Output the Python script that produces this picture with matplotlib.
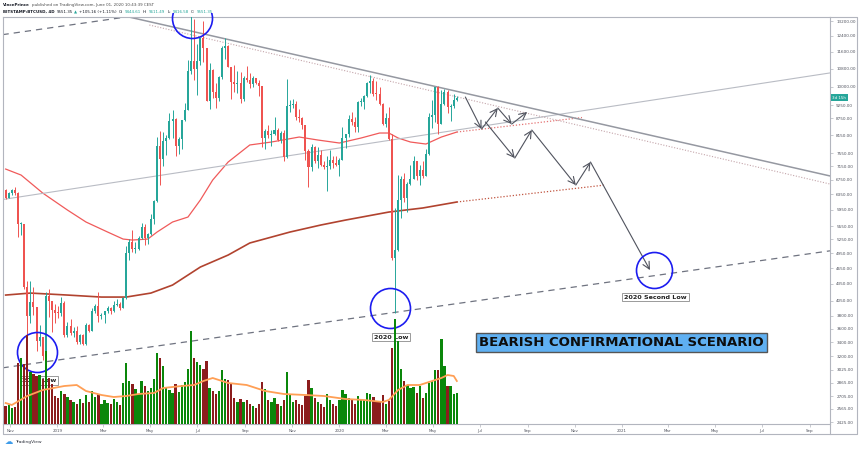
import matplotlib
matplotlib.use("Agg")
import matplotlib.pyplot as plt
import matplotlib.dates as mdates
import matplotlib.ticker as mticker
import matplotlib.transforms as mtransforms
import numpy as np
import pandas as pd

W, H = 860, 449

# ---- BTCUSD 4D candles (Bitstamp), first candle starts 2018-10-26 ----
first_open = 6470
closes = [6250, 6390, 6460, 6370, 5600, 5600, 4300, 3800, 4020, 3940,
          3410, 3470, 3210, 4130, 4050, 3900, 3850, 3840, 4010, 3500,
          3640, 3540, 3570, 3400, 3510, 3380, 3650, 3570, 3880, 3960,
          3800, 3820, 3870, 3920, 3870, 3980, 3990, 3930, 4100, 4960,
          5200, 5030, 5040, 5270, 5530, 5270, 5370, 5730, 6160, 7800,
          7360, 7950, 8060, 8660, 8740, 7800, 8010, 8690, 9080, 10700,
          11150, 10800, 11150, 12300, 11800, 9430, 10750, 9780, 9530, 10400,
          11800, 11860, 10880, 10220, 10130, 10140, 9490, 10380, 10310, 10100,
          10360, 10160, 10030, 8060, 8300, 8160, 8200, 8320, 8000, 8230,
          7430, 9220, 9250, 9310, 8810, 8770, 8500, 7620, 7130, 7750,
          7300, 7510, 7200, 7120, 7160, 7330, 7260, 7170, 7350, 8050,
          8180, 8720, 8630, 8430, 9370, 9370, 9610, 10150, 10230, 9700,
          9680, 9310, 8540, 8750, 8030, 4850, 5010, 6190, 6760, 6250,
          6640, 6780, 7300, 6860, 7040, 6860, 7540, 8790, 8890, 9980,
          8560, 9310, 9780, 9180, 9200, 9444.61, 9551.35]
highs = [6500, 6420, 6480, 6550, 6420, 5650, 5600, 4400, 4400, 4300,
         3950, 3650, 3480, 4200, 4250, 4050, 3990, 3960, 4120, 4040,
         3700, 3750, 3620, 3640, 3520, 3520, 3680, 3670, 3920, 4000,
         4200, 3850, 3880, 3960, 3940, 4050, 4080, 4020, 4120, 5100,
         5250, 5470, 5200, 5330, 5620, 5600, 5400, 5850, 6200, 8100,
         8300, 8250, 8150, 8950, 9080, 8750, 8100, 8700, 9350, 11200,
         13880, 13300, 12000, 12350, 13200, 11800, 11050, 10800, 10150, 10450,
         11900, 12300, 11950, 10880, 10950, 10700, 10620, 10450, 10900, 10600,
         10450, 10380, 10300, 10050, 8350, 8500, 8330, 8800, 8400, 8280,
         8330, 10350, 9450, 9500, 9400, 9100, 8800, 8500, 7700, 7850,
         7800, 7750, 7650, 7300, 7450, 7650, 7450, 7450, 7400, 8450,
         8200, 8880, 9000, 8800, 9400, 9550, 9650, 10200, 10500, 10380,
         10250, 9980, 9350, 8950, 9180, 8200, 6000, 6900, 6850, 6950,
         6700, 7200, 7450, 7320, 7200, 7300, 7700, 8950, 9450, 10000,
         10050, 9850, 9900, 9850, 9300, 9700, 9611.49]
lows = [6220, 6250, 6330, 6330, 5300, 5350, 4250, 3480, 3680, 3820,
        3280, 3340, 3150, 3200, 3780, 3550, 3680, 3760, 3800, 3480,
        3480, 3500, 3480, 3380, 3380, 3360, 3360, 3550, 3560, 3850,
        3700, 3750, 3680, 3850, 3830, 3860, 3960, 3900, 3920, 4080,
        4800, 4980, 4950, 5010, 5250, 5120, 5150, 5350, 5600, 6150,
        6600, 7150, 7500, 8020, 8050, 7450, 7520, 7700, 8650, 9050,
        10550, 10300, 9650, 10950, 11100, 9400, 9100, 9550, 9150, 9400,
        10350, 11250, 10850, 9500, 9800, 9750, 9350, 9400, 10200, 9950,
        10000, 10100, 9600, 7750, 7700, 8050, 7800, 8150, 7950, 7880,
        7300, 7400, 9000, 9150, 8700, 8600, 8350, 7350, 6550, 7000,
        7250, 7100, 7150, 7050, 6450, 7050, 7100, 7150, 6870, 7350,
        7730, 8080, 8500, 8250, 8250, 9200, 9100, 9580, 9750, 9600,
        9450, 9250, 8500, 8450, 8000, 4800, 3850, 5000, 5750, 6150,
        5880, 6600, 6780, 6750, 6600, 6800, 6850, 7500, 8400, 8600,
        8200, 8550, 9250, 8950, 8650, 9150, 9416.58]
volumes = [18, 19, 16, 17, 61, 66, 60, 89, 52, 50,
           48, 49, 45, 73, 46, 40, 28, 26, 33, 30,
           27, 24, 22, 20, 25, 21, 29, 22, 33, 27,
           30, 20, 24, 21, 20, 25, 22, 19, 41, 61,
           43, 40, 35, 30, 43, 38, 33, 36, 45, 71,
           66, 58, 36, 34, 31, 40, 32, 39, 42, 55,
           93, 66, 62, 59, 55, 63, 36, 33, 30, 33,
           54, 45, 44, 40, 26, 22, 25, 22, 24, 20,
           18, 16, 20, 42, 35, 24, 22, 26, 20, 18,
           24, 52, 30, 22, 24, 20, 19, 28, 44, 36,
           26, 22, 20, 17, 30, 24, 20, 18, 24, 34,
           30, 26, 24, 20, 28, 24, 24, 31, 30, 27,
           23, 22, 29, 20, 23, 76, 105, 83, 55, 43,
           39, 36, 37, 31, 38, 26, 31, 41, 43, 54,
           54, 85, 58, 38, 38, 30, 31]

# moving averages (candle index -> value)
ma_fast_idx = [0, 5, 12, 20, 26, 33, 38, 41, 46, 49, 54, 59, 63, 67, 72, 79,
               86, 95, 101, 108, 115, 121, 124, 127, 131, 136, 141, 146]
ma_fast = [7063, 6886, 6382, 5940, 5647, 5413, 5255, 5233, 5255, 5413, 5647,
           5767, 6197, 6743, 7276, 7819, 7917, 8086, 7985, 7884, 8052, 8224,
           8224, 8052, 7917, 7850, 8086, 8258]
ma_slow_idx = [0, 8, 20, 31, 39, 47, 54, 63, 72, 79, 92, 102, 110, 124, 135, 146]
ma_slow = [4148, 4183, 4148, 4113, 4113, 4183, 4327, 4669, 4912, 5168, 5413,
           5576, 5694, 5890, 5992, 6145]
vol_ma_idx = [0, 2, 7, 12, 19, 23, 26, 31, 35, 39, 43, 48, 51, 57, 61, 64, 67,
              72, 78, 84, 90, 97, 103, 110, 116, 122, 124, 127, 130, 134, 138,
              141, 143, 145, 146]
vol_ma = [21, 19, 28, 34, 38, 39, 33, 29, 27, 28, 30, 31, 36, 38, 39, 43, 46,
          41, 39, 33, 30, 29, 28, 25, 24, 22, 24, 34, 39, 39, 43, 46, 49, 48, 43]
ma_fast_proj = (["2020-06-01", "2020-11-10"], [8258, 8780])
ma_slow_proj = (["2020-06-01", "2020-12-09"], [6145, 6600])

# drawn trend lines (date, price anchors)
channel_top = (["2018-10-22", "2019-04-15"], [12460, 13520])
channel_bottom = (["2018-10-22", "2021-09-27"], [3050, 5000])
rising_line = (["2018-10-22", "2021-09-27"], [6210, 10600])
falling_line = (["2019-03-23", "2021-09-27"], [13540, 6860])
falling_dotted = (["2019-04-30", "2021-09-27"], [12978, 6630])

# projected path arrows: (start date, start price, end date, end price)
arrows = [
    ("2020-06-12", 9575, "2020-07-03", 8363),
    ("2020-07-03", 8363, "2020-07-24", 9140),
    ("2020-07-24", 9140, "2020-08-11", 8541),
    ("2020-08-11", 8541, "2020-08-31", 8988),
    ("2020-07-08", 8616, "2020-08-15", 7398),
    ("2020-08-15", 7398, "2020-09-06", 8329),
    ("2020-09-06", 8329, "2020-11-02", 6601),
    ("2020-11-02", 6601, "2020-11-21", 7276),
    ("2020-11-21", 7276, "2021-02-06", 4609),
]

circle_dates = ["2018-12-06", "2020-03-06", "2021-02-11"]
circle_prices = [3260, 3927, 4609]
circle_radius = [20, 20, 18]
top_circle = ("2019-06-24", 13368)

labels = ["2018 Low", "2020 Low", "2020 Second Low"]
label_dates = ["2018-12-08", "2020-03-08", "2021-02-13"]
label_prices = [2891, 3474, 4113]

yticks = [13200, 12400, 11600, 10800, 10000, 9250, 8750, 8150, 7550, 7150,
          6750, 6350, 5950, 5550, 5250, 4950, 4650, 4350, 4050, 3800, 3600,
          3400, 3200, 3025, 2865, 2705, 2565, 2425]
xtick_dates = ["2018-11-01", "2019-01-01", "2019-03-01", "2019-05-01",
               "2019-07-01", "2019-09-01", "2019-11-01", "2020-01-01",
               "2020-03-01", "2020-05-01", "2020-07-01", "2020-09-01",
               "2020-11-01", "2021-01-01", "2021-03-01", "2021-05-01",
               "2021-07-01", "2021-09-01"]
xtick_labels = ["Nov", "2019", "Mar", "May", "Jul", "Sep", "Nov", "2020",
                "Mar", "May", "Jul", "Sep", "Nov", "2021", "Mar", "May",
                "Jul", "Sep"]


def dn(s):
    return mdates.date2num(pd.Timestamp(s))


candle_dates = pd.date_range("2018-10-26", periods=len(closes), freq="4D")
xd = mdates.date2num(candle_dates)
opens = np.array([first_open] + closes[:-1], dtype=float)
c = np.array(closes, dtype=float)
up = c >= opens

fig = plt.figure(figsize=(W / 100, H / 100), dpi=100)
rect = [3 / W, 1 - 424 / H, 827 / W, 407 / H]
ax = fig.add_axes(rect)
vax = fig.add_axes(rect)
vax.set_facecolor("none")
vax.axis("off")

x0, x1 = dn("2018-10-22 14:00"), dn("2021-09-27")
ax.set_xlim(x0, x1)
vax.set_xlim(x0, x1)
ax.set_yscale("log")
ax.set_ylim(2406, 13425)
vax.set_ylim(0, 407)

# candles
ccol = np.where(up, "#26a69a", "#ef5350")
lo = np.minimum(opens, c)
hi = np.maximum(np.maximum(opens, c), lo * 1.004)
ax.vlines(xd, lows, highs, colors=ccol, lw=0.7, zorder=3)
ax.bar(xd, hi - lo, bottom=lo, width=2.6, color=ccol, linewidth=0, zorder=3)

# volume
vcol = np.where(up, "#0a870a", "#8c1d1d")
vax.bar(xd, volumes, width=3.0, color=vcol, linewidth=0)
vax.plot(xd[vol_ma_idx], vol_ma, color="#ff9f55", lw=1.3)

# moving averages
ax.plot(xd[ma_fast_idx], ma_fast, color="#f05a5a", lw=0.9, zorder=2)
ax.plot(xd[ma_slow_idx], ma_slow, color="#b1432f", lw=1.2, zorder=2)
ax.plot([dn(d) for d in ma_fast_proj[0]], ma_fast_proj[1], color="#e57373",
        lw=0.9, ls=(0, (1, 1.5)))
ax.plot([dn(d) for d in ma_slow_proj[0]], ma_slow_proj[1], color="#c0543f",
        lw=0.9, ls=(0, (1, 1.5)))

# trend lines
ax.plot([dn(d) for d in channel_top[0]], channel_top[1], color="#6f7380",
        lw=0.9, ls=(0, (5, 4)))
ax.plot([dn(d) for d in channel_bottom[0]], channel_bottom[1], color="#6f7380",
        lw=0.9, ls=(0, (5, 4)))
ax.plot([dn(d) for d in rising_line[0]], rising_line[1], color="#b9bcc4", lw=0.8)
ax.plot([dn(d) for d in falling_line[0]], falling_line[1], color="#9598a1", lw=1.1)
ax.plot([dn(d) for d in falling_dotted[0]], falling_dotted[1], color="#c4a5aa",
        lw=0.8, ls=(0, (1, 1.5)))

for sd, sp, ed, ep in arrows:
    ax.annotate("", xy=(dn(ed), ep), xytext=(dn(sd), sp),
                arrowprops=dict(arrowstyle="->,head_length=0.5,head_width=0.25",
                                color="#50535e", lw=0.8, shrinkA=0, shrinkB=0))

# circles
for d, p, r in zip(circle_dates, circle_prices, circle_radius):
    ax.plot(dn(d), p, "o", ms=2 * r * 0.72, mfc="none", mec="#1c1cf0", mew=1.2,
            clip_on=False, zorder=6)
tc, = ax.plot(dn(top_circle[0]), top_circle[1], "o", ms=40 * 0.72, mfc="none",
              mec="#1c1cf0", mew=1.2, zorder=6)
tc.set_clip_box(mtransforms.Bbox.from_extents(0, 0, W, H - 13))

for s, d, p in zip(labels, label_dates, label_prices):
    ax.text(dn(d), p, s, fontsize=4.6, fontweight="bold", color="#222",
            ha="center", va="center", zorder=7,
            bbox=dict(boxstyle="square,pad=0.3", fc="white", ec="#8a8a8a", lw=0.6))

ax.text(dn("2020-12-31"), 3394, "BEARISH CONFIRMATIONAL SCENARIO", fontsize=9.5,
        fontweight="bold", color="#0d0d0d", ha="center", va="center", zorder=7,
        bbox=dict(boxstyle="square,pad=0.22", fc="#5fb0f2", ec="#555", lw=1.0))

# axes styling
ax.yaxis.tick_right()
ax.set_yticks(yticks)
ax.set_yticklabels([f"{v:.2f}" for v in yticks])
ax.yaxis.set_minor_locator(mticker.NullLocator())
ax.set_xticks([dn(d) for d in xtick_dates])
ax.set_xticklabels(xtick_labels)
ax.tick_params(axis="y", length=2, width=0.5, color="#b2b5be", labelsize=3.0,
               labelcolor="#50535e", pad=2.5)
ax.tick_params(axis="x", length=2, width=0.5, color="#b2b5be", labelsize=2.9,
               labelcolor="#50535e", pad=1.5)
for sp in ax.spines.values():
    sp.set_color("#b2b5be")
    sp.set_linewidth(0.8)

ax.text(1.003, 9551.35, "3d 15h", transform=ax.get_yaxis_transform(),
        fontsize=2.9, color="white", ha="left", va="center", zorder=8,
        bbox=dict(boxstyle="square,pad=0.35", fc="#26a69a", ec="none"))


def pix_line(xs, ys):
    fig.add_artist(plt.Line2D(np.array(xs) / W, 1 - np.array(ys) / H,
                              transform=fig.transFigure, color="#b2b5be", lw=0.8))


pix_line([3, 3, 857, 857, 830], [424, 434, 434, 17, 17])
pix_line([830, 830], [424, 434])

renderer = fig.canvas.get_renderer()


def text_row(x, y, pieces):
    for s, color, weight in pieces:
        t = fig.text(x / W, 1 - y / H, s, color=color, fontsize=2.9,
                     fontweight=weight, ha="left", va="center")
        x += t.get_window_extent(renderer).width + 1.8


dark, teal = "#131722", "#26a69a"
text_row(3, 5, [("VincePrince", dark, "bold"),
                ("published on TradingView.com, June 01, 2020 10:43:39 CEST",
                 "#4a4a4a", "normal")])
text_row(3, 12, [("BITSTAMP:BTCUSD, 4D", dark, "bold"), ("9551.35", dark, "normal"),
                 ("\u25b2", teal, "normal"), ("+105.16 (+1.11%)", dark, "normal"),
                 ("O:", dark, "normal"), ("9444.61", teal, "normal"),
                 ("H:", dark, "normal"), ("9611.49", teal, "normal"),
                 ("L:", dark, "normal"), ("9416.58", teal, "normal"),
                 ("C:", dark, "normal"), ("9551.35", teal, "normal")])

fig.text(5 / W, 1 - 442 / H, "\u2601", fontsize=6, color="#3d9be9",
         ha="left", va="center")
fig.text(15 / W, 1 - 442 / H, "TradingView", fontsize=3.2, color="#2a2e39",
         ha="left", va="center")

fig.savefig("out.png", dpi=100, facecolor="white")
